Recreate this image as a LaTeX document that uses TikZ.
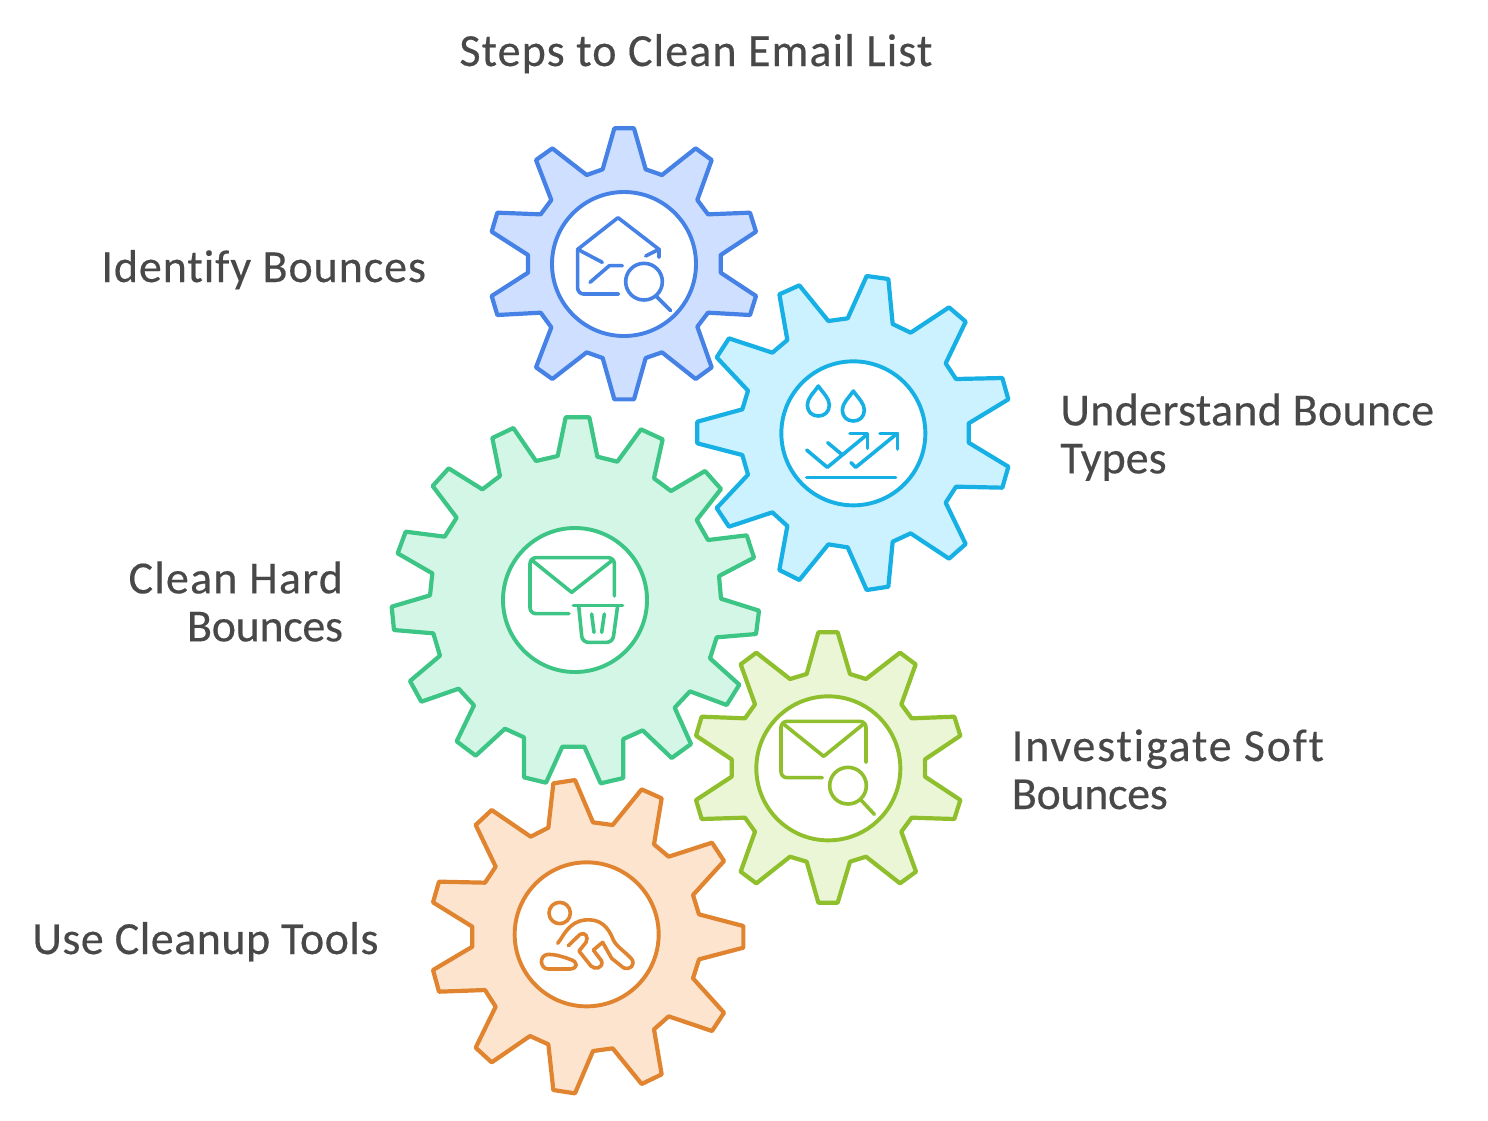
\documentclass[tikz,border=0pt]{standalone}
\usepackage{fontspec}
\setmainfont[Ligatures=NoCommon,FakeBold=0.35]{Carlito}
\definecolor{bluS}{HTML}{4682E6}\definecolor{bluF}{HTML}{CEDFFF}
\definecolor{skyS}{HTML}{17B0E4}\definecolor{skyF}{HTML}{CCF1FF}
\definecolor{grnS}{HTML}{3DC585}\definecolor{grnF}{HTML}{D4F6E6}
\definecolor{limS}{HTML}{90BF2E}\definecolor{limF}{HTML}{EAF6D5}
\definecolor{orgS}{HTML}{E08430}\definecolor{orgF}{HTML}{FCE4CF}
\definecolor{txtC}{HTML}{484848}
\tikzset{
  zoomat/.style 2 args={shift={(#1*0.5pt,-#2*0.5pt)},x=0.16667pt,y=-0.16667pt},
  gearshape/.style={line width=2.1pt,line join=round},
  hub/.style={line width=1.95pt,fill=white},
  glyph/.style={line width=1.8pt,line cap=round,line join=round},
  lbl/.style={inner sep=0pt,text=txtC,font=\fontsize{23}{24}\selectfont},
}
\newcommand{\spaced}[2]{{\addfontfeature{LetterSpace=#1}#2}}
\newcommand{\droplet}[2]{(#1,#2) .. controls ({#1-15},{#2+22}) and ({#1-33},{#2+37}) .. ({#1-33},{#2+57}) .. controls ({#1-33},{#2+78}) and ({#1-18},{#2+90}) .. (#1,{#2+90}) .. controls ({#1+18},{#2+90}) and ({#1+33},{#2+78}) .. ({#1+33},{#2+57}) .. controls ({#1+33},{#2+37}) and ({#1+15},{#2+22}) .. (#1,#2) -- cycle}
\begin{document}
\begin{tikzpicture}
\useasboundingbox (0,0) rectangle (744pt,-560pt);
% Blue gear
\begin{scope}[zoomat={480}{120}]
\draw[gearshape,draw=bluS,fill=bluF] (403,25)--(462,25)--(497,148)--(546,165)--(647,85)--(695,120)--(652,240)--(684,283)--(810,278)--(828,335)--(722,405)--(722,458)--(828,528)--(810,585)--(684,578)--(652,620)--(695,742)--(647,777)--(546,697)--(497,714)--(462,838)--(403,838)--(368,714)--(320,697)--(217,777)--(168,742)--(214,622)--(182,578)--(52,585)--(35,528)--(144,458)--(144,405)--(35,335)--(52,278)--(182,283)--(214,240)--(168,120)--(217,85)--(320,165)--(368,148)--cycle;
\draw[hub,draw=bluS] (432,432) circle[radius=216];
\begin{scope}[glyph,draw=bluS]
\draw[rounded corners=3pt] (416,522)--(293,522)--(293,388);
\draw (293,388)--(414,293)--(537,388)--(537,412);
\draw (497,408)--(537,388);
\draw (293,388)--(367,427);
\draw (330,487)--(388,437)--(427,437);
\draw (492,485) circle[radius=55];
\draw (530,530)--(572,572);
\end{scope}
\end{scope}
% Sky gear
\begin{scope}[zoomat={690}{270}]
\draw[gearshape,draw=skyS,fill=skyF] (530,18)--(595,27)--(608,162)--(662,188)--(777,112)--(827,155)--(767,280)--(798,327)--(937,324)--(955,388)--(836,460)--(836,518)--(955,590)--(937,653)--(798,650)--(767,698)--(827,822)--(777,866)--(662,790)--(608,815)--(595,950)--(530,960)--(473,832)--(415,823)--(328,930)--(268,900)--(292,768)--(247,727)--(117,770)--(80,714)--(174,614)--(157,555)--(22,520)--(22,455)--(157,418)--(174,362)--(80,262)--(117,205)--(247,248)--(292,210)--(268,73)--(328,46)--(415,153)--(473,145)--cycle;
\draw[hub,draw=skyS] (490,490) circle[radius=216];
\begin{scope}[glyph,draw=skyS]
\draw \droplet{385}{348};
\draw \droplet{490}{363};
\draw (350,622)--(617,622);
\draw (350,540)--(412,592)--(533,492);
\draw (480,490)--(533,490)--(533,535);
\draw (413,518)--(455,553);
\draw (483,578)--(497,592)--(622,490);
\draw (570,490)--(622,490)--(622,537);
\end{scope}
\end{scope}
% Green gear
\begin{scope}[zoomat={380}{410}]
\draw[gearshape,draw=grnS,fill=grnF] (557,22)--(628,22)--(652,140)--(712,155)--(783,58)--(848,88)--(822,205)--(873,243)--(975,183)--(1023,237)--(950,330)--(984,390)--(1100,376)--(1122,443)--(1017,498)--(1023,566)--(1137,602)--(1128,672)--(1010,682)--(990,745)--(1078,824)--(1040,885)--(930,844)--(884,893)--(933,1002)--(875,1044)--(788,961)--(730,987)--(730,1104)--(662,1120)--(613,1010)--(547,1010)--(498,1118)--(432,1102)--(432,982)--(375,956)--(287,1037)--(230,994)--(282,886)--(236,836)--(124,875)--(90,813)--(180,737)--(160,670)--(42,660)--(35,590)--(150,556)--(157,490)--(53,430)--(77,365)--(194,380)--(230,323)--(158,228)--(206,175)--(307,238)--(360,198)--(337,84)--(400,54)--(468,153)--(533,138)--cycle;
\draw[hub,draw=grnS] (585,570) circle[radius=216];
\end{scope}
\begin{scope}[zoomat={490}{515},glyph,draw=grnS]
\draw[rounded corners=3pt] (237,296)--(120,296)--(120,128)--(373,128)--(373,243);
\draw (125,135)--(245,232)--(368,135);
\draw (250,272)--(398,272);
\draw[rounded corners=3pt] (266,272)--(277,382)--(368,382)--(383,272);
\draw (305,297)--(312,352);
\draw (343,297)--(335,352);
\end{scope}
% Lime gear
\begin{scope}[zoomat={690}{625}]
\draw[gearshape,draw=limS,fill=limF] (385,22)--(443,22)--(480,147)--(528,162)--(630,83)--(677,118)--(634,238)--(665,280)--(793,275)--(811,332)--(705,403)--(705,455)--(811,525)--(793,582)--(665,578)--(634,620)--(678,740)--(630,775)--(528,695)--(480,710)--(443,833)--(385,833)--(350,710)--(300,695)--(199,775)--(152,740)--(195,620)--(165,578)--(35,582)--(18,525)--(125,455)--(125,403)--(18,332)--(35,275)--(165,280)--(195,238)--(152,118)--(199,83)--(300,162)--(350,147)--cycle;
\draw[hub,draw=limS] (415,430) circle[radius=216];
\end{scope}
\begin{scope}[zoomat={745}{685},glyph,draw=limS]
\draw[rounded corners=3pt] (232,278)--(108,278)--(108,109)--(363,109)--(363,232);
\draw (113,115)--(236,214)--(358,115);
\draw (309,302) circle[radius=55];
\draw (348,345)--(388,388);
\end{scope}
% Orange gear
\begin{scope}[zoomat={425}{775}]
\draw[gearshape,draw=orgS,fill=orgF] (385,25)--(450,15)--(504,142)--(563,150)--(650,43)--(710,70)--(687,208)--(731,245)--(861,203)--(897,258)--(804,360)--(822,418)--(955,453)--(955,518)--(822,553)--(804,610)--(897,713)--(861,768)--(731,724)--(687,763)--(710,898)--(650,927)--(563,820)--(504,828)--(450,955)--(385,945)--(370,808)--(315,783)--(200,862)--(152,818)--(212,695)--(180,645)--(42,650)--(24,585)--(142,515)--(142,455)--(24,382)--(42,320)--(180,323)--(212,275)--(152,150)--(200,105)--(317,185)--(370,158)--cycle;
\draw[hub,draw=orgS] (485,478) circle[radius=216];
\end{scope}
\begin{scope}[zoomat={505}{855},glyph,draw=orgS]
\draw (164,174) circle[radius=32];
\draw (158,265) .. controls (175,245) and (190,200) .. (240,195) .. controls (285,190) and (310,215) .. (325,255) .. controls (335,275) and (360,290) .. (380,312) .. controls (392,330) and (375,347) .. (355,338) -- (320,310) -- (293,262) -- (265,285) -- (290,318) .. controls (295,340) and (270,345) .. (258,333) -- (222,288) -- (243,262) .. controls (252,245) and (240,230) .. (225,238) -- (190,272);
\draw (130,298) .. controls (100,300) and (105,342) .. (130,342) -- (195,342) .. controls (220,340) and (220,320) .. (195,313) .. controls (175,305) and (150,298) .. (130,298) -- cycle;
\end{scope}
% Labels
\node[lbl,anchor=base] (title) at (348pt,-33pt) {\spaced{2.4}{Steps to Clean Email List}};
\node[lbl,anchor=base west] (identify) at (50.5pt,-141pt) {\spaced{2.0}{Identify Bounces}};
\node[lbl,anchor=north west,align=left] (understand) at (530pt,-196.5pt) {\spaced{0.7}{Understand Bounce}\\Types};
\node[lbl,anchor=north east,align=right] (hard) at (171.7pt,-280.5pt) {\spaced{2.6}{Clean Hard}\\\spaced{-0.7}{Bounces}};
\node[lbl,anchor=north west,align=left] (soft) at (505.7pt,-364.5pt) {\spaced{3.9}{Investigate Soft}\\\spaced{-0.7}{Bounces}};
\node[lbl,anchor=base west] (tools) at (16pt,-477pt) {\spaced{1.1}{Use Cleanup Tools}};
\end{tikzpicture}
\end{document}
